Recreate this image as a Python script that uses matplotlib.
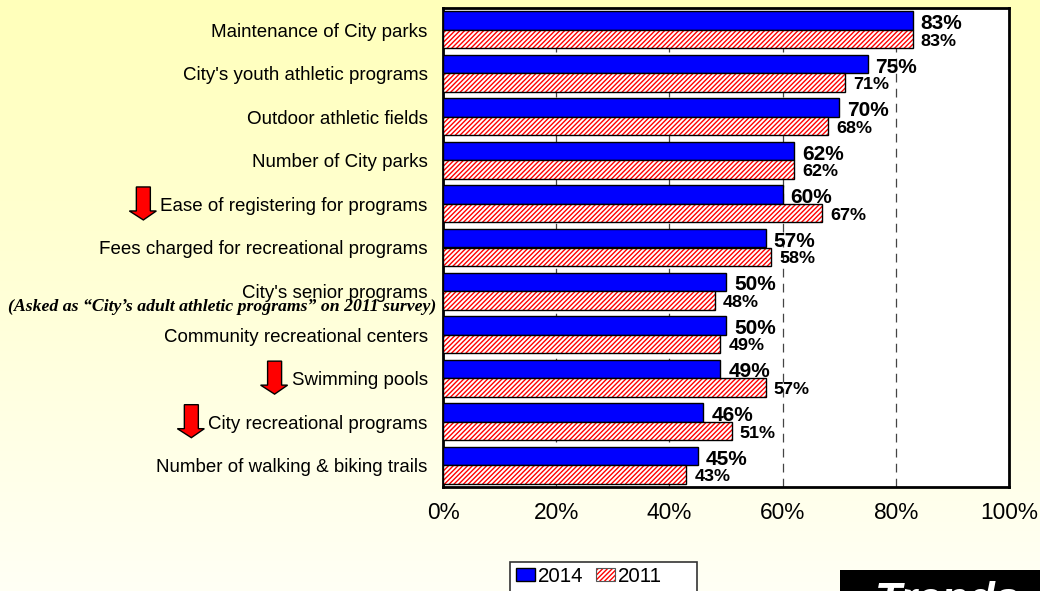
import matplotlib
matplotlib.use('Agg')
import matplotlib.pyplot as plt
from matplotlib.patches import Polygon, Rectangle
import numpy as np

plt.rcParams['font.family'] = ['Liberation Sans', 'DejaVu Sans']
plt.rcParams['hatch.linewidth'] = 1.0
plt.rcParams['text.hinting'] = 'no_autohint'

W, H = 1040, 591

categories = ["Maintenance of City parks", "City's youth athletic programs",
              "Outdoor athletic fields", "Number of City parks",
              "Ease of registering for programs",
              "Fees charged for recreational programs",
              "City's senior programs", "Community recreational centers",
              "Swimming pools", "City recreational programs",
              "Number of walking & biking trails"]
values_2014 = [83, 75, 70, 62, 60, 57, 50, 50, 49, 46, 45]
values_2011 = [83, 71, 68, 62, 67, 58, 48, 49, 57, 51, 43]
x_ticks = [0, 20, 40, 60, 80, 100]
note = "(Asked as \u201cCity\u2019s adult athletic programs\u201d on 2011 survey)"
# categories that got a red down arrow
arrow_cats = ["Ease of registering for programs", "Swimming pools", "City recreational programs"]


def fx(px):
    return px / W


def fy(py):
    return 1 - py / H


fig = plt.figure(figsize=(W / 100, H / 100), dpi=100)

# yellow to ivory background
bg = fig.add_axes([0, 0, 1, 1], zorder=0)
top = np.array([1.0, 1.0, 0.73])
bottom = np.array([1.0, 1.0, 0.96])
t = np.linspace(0, 1, 256)[:, None, None]
bg.imshow(top * (1 - t) + bottom * t, aspect='auto', extent=[0, 1, 0, 1])
bg.axis('off')

ax = fig.add_axes([fx(443), fy(487), fx(566), (487 - 8) / H], zorder=1)
y = np.arange(len(categories))
h = 0.425
ax.barh(y - h / 2, values_2014, h, color='#0000ff', edgecolor='black', linewidth=1.0,
        label='2014', zorder=3)
ax.barh(y + h / 2, values_2011, h, color='white', edgecolor='#ff0000', hatch='///////',
        linewidth=0, label='2011', zorder=3)
ax.barh(y + h / 2, values_2011, h, fill=False, edgecolor='black', linewidth=1.0, zorder=4)

for i in y:
    ax.annotate(f"{values_2014[i]}%", (values_2014[i], i - h / 2), xytext=(5.8, -2.2),
                textcoords='offset points', va='center', ha='left',
                fontsize=15, fontweight='bold', zorder=5)
    ax.annotate(f"{values_2011[i]}%", (values_2011[i], i + h / 2), xytext=(5.8, -1.5),
                textcoords='offset points', va='center', ha='left',
                fontsize=13, fontweight='bold', zorder=5)

ax.set_xlim(0, 100)
ax.set_ylim(len(categories) - 0.5, -0.5)
ax.set_xticks(x_ticks)
ax.set_xticklabels([f"{v}%" for v in x_ticks], fontsize=16.3)
ax.set_yticks(y)
ax.set_yticklabels(categories, fontsize=13.5)
ax.tick_params(axis='both', length=0)
ax.tick_params(axis='x', pad=11)
ax.tick_params(axis='y', pad=11)
ax.xaxis.grid(True, color='#444444', linestyle=(0, (7, 5)), linewidth=0.9, zorder=1)
ax.set_axisbelow(True)
for s in ax.spines.values():
    s.set_linewidth(2)
    s.set_color('black')

fig.text(fx(436), fy(307), note, ha='right', va='center', fontsize=12.8,
         family='Liberation Serif', fontweight='bold', style='italic', zorder=6)

# arrows next to the labels that went down
fig.canvas.draw()
labels = {lab.get_text(): lab for lab in ax.get_yticklabels()}
for cat in arrow_cats:
    box = labels[cat].get_window_extent()
    xr = box.x0 - 4
    yc = H - (box.y0 + box.y1) / 2
    pts = [(xr - 20, yc - 19), (xr - 6, yc - 19), (xr - 6, yc + 5), (xr, yc + 5), (xr - 13, yc + 14),
           (xr - 27, yc + 5), (xr - 20, yc + 5)]
    fig.add_artist(Polygon([(fx(a), fy(b)) for a, b in pts], closed=True, transform=fig.transFigure,
                           facecolor='#ff0000', edgecolor='black', linewidth=1.0, zorder=6))

# legend box runs off the bottom of the page
fig.add_artist(Rectangle((fx(510), fy(592)), fx(187), (592 - 562) / H, transform=fig.transFigure,
                         facecolor='white', edgecolor='#333333', linewidth=1.2, zorder=6))
handles, leg_labels = ax.get_legend_handles_labels()
leg = fig.legend(handles, leg_labels, ncol=2, frameon=False, fontsize=14.8,
                 loc='center left', bbox_to_anchor=(fx(516), fy(576.5)),
                 handlelength=0.92, handleheight=0.63, handletextpad=0.15, columnspacing=0.63,
                 borderpad=0, borderaxespad=0)
leg.set_zorder(7)
fig.canvas.draw()
# outline for the hatched swatch, its own edge colour sets the hatch colour
sw = leg.legend_handles[1].get_window_extent()
fig.add_artist(Rectangle((sw.x0 / W, sw.y0 / H), sw.width / W, sw.height / H, transform=fig.transFigure,
                         fill=False, edgecolor='#555555', linewidth=0.8, zorder=8))

# black title box, cut by the page edge
fig.add_artist(Rectangle((fx(840), 0), fx(200), (591 - 570) / H, transform=fig.transFigure,
                         facecolor='black', edgecolor='none', zorder=6))
fig.text(fx(875), fy(613), "Trends", ha='left', va='baseline', color='white', fontsize=31.5,
         fontweight='bold', style='italic', zorder=7)

fig.savefig('out.png', dpi=100)
plt.close()
